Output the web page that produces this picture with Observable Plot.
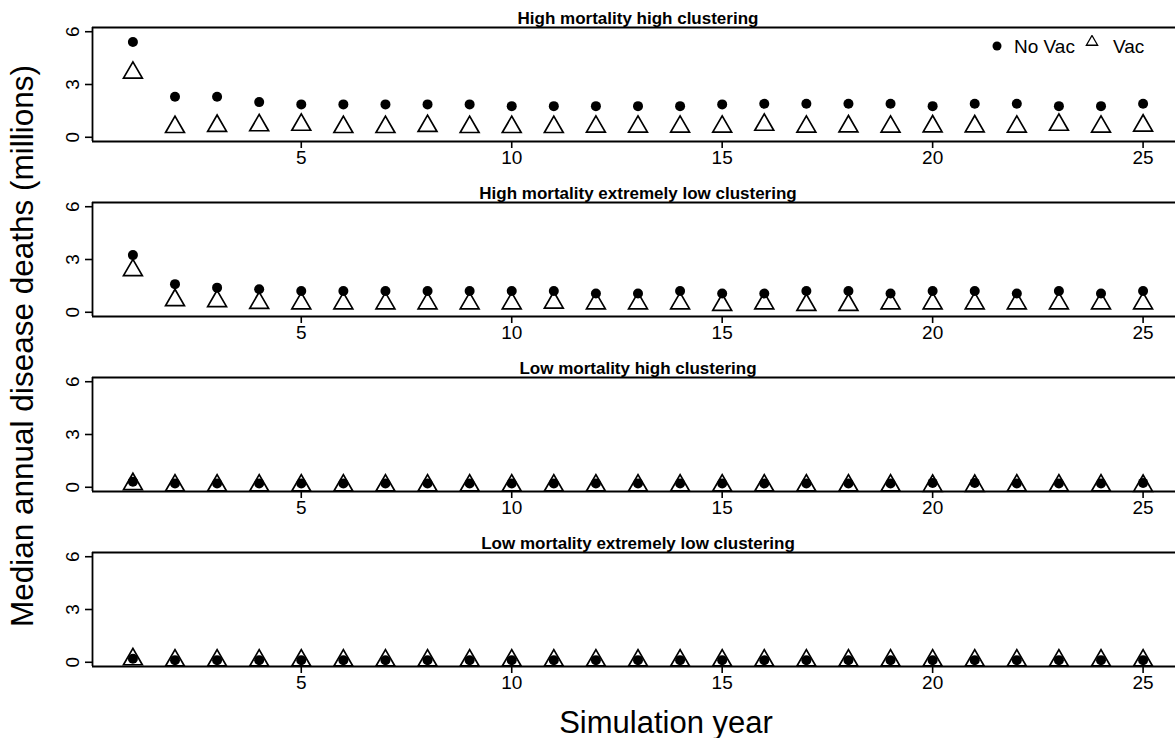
<!DOCTYPE html>
<html>
<head>
<meta charset="utf-8">
<script src="https://cdn.jsdelivr.net/npm/d3@7"></script>
<script src="https://cdn.jsdelivr.net/npm/@observablehq/plot@0.6"></script>
<style>
  html, body { margin: 0; padding: 0; background: #fff; }
  body { font-family: "Liberation Sans", Arial, sans-serif; color: #000; }
  #wrap { position: relative; width: 1175px; height: 738px; overflow: hidden; background: #fff; }
  .panel { position: absolute; left: 0; }
  .panel svg { overflow: hidden; }
  #ytitle { position: absolute; left: 23px; top: 346px; transform: translate(-50%, -50%) rotate(-90deg);
            font-size: 31.5px; white-space: nowrap; line-height: 1; }
  #xtitle { position: absolute; left: 666px; top: 722px; transform: translate(-50%, -50%);
            font-size: 31px; white-space: nowrap; line-height: 1; }
  #legend { position: absolute; left: 991px; top: 35px; height: 24px; font-size: 19px; line-height: 24px;
            white-space: nowrap; display: flex; align-items: center; }
  #legend svg { display: block; }
</style>
</head>
<body>
<div id="wrap">
  <div id="ytitle">Median annual disease deaths (millions)</div>
  <div id="xtitle">Simulation year</div>
</div>
<script>
// ---- data ----
const years = [1, 2, 3, 4, 5, 6, 7, 8, 9, 10, 11, 12, 13, 14, 15, 16, 17, 18, 19, 20, 21, 22, 23, 24, 25];

const panelTitles = [
  "High mortality high clustering",
  "High mortality extremely low clustering",
  "Low mortality high clustering",
  "Low mortality extremely low clustering"
];

const highHighNoVac = [5.42, 2.30, 2.30, 2.00, 1.87, 1.87, 1.87, 1.87, 1.87, 1.77, 1.77, 1.77, 1.77, 1.77, 1.87, 1.91, 1.91, 1.91, 1.91, 1.77, 1.91, 1.91, 1.77, 1.77, 1.91];
const highHighVac   = [3.67, 0.58, 0.65, 0.68, 0.71, 0.58, 0.58, 0.64, 0.58, 0.58, 0.58, 0.60, 0.60, 0.60, 0.60, 0.71, 0.60, 0.62, 0.60, 0.62, 0.62, 0.60, 0.71, 0.60, 0.66];

const highLowNoVac = [3.25, 1.60, 1.40, 1.31, 1.21, 1.21, 1.21, 1.21, 1.21, 1.21, 1.21, 1.07, 1.07, 1.21, 1.07, 1.07, 1.21, 1.21, 1.07, 1.21, 1.21, 1.07, 1.21, 1.07, 1.21];
const highLowVac   = [2.39, 0.69, 0.63, 0.53, 0.50, 0.50, 0.50, 0.50, 0.50, 0.50, 0.55, 0.50, 0.50, 0.50, 0.42, 0.50, 0.42, 0.42, 0.50, 0.50, 0.50, 0.50, 0.50, 0.50, 0.50];

const lowHighNoVac = [0.32, 0.22, 0.22, 0.22, 0.22, 0.22, 0.22, 0.22, 0.22, 0.22, 0.22, 0.22, 0.22, 0.22, 0.22, 0.22, 0.22, 0.22, 0.22, 0.25, 0.25, 0.22, 0.22, 0.22, 0.25];
const lowHighVac   = [0.18, 0.10, 0.10, 0.10, 0.10, 0.10, 0.10, 0.10, 0.10, 0.10, 0.10, 0.10, 0.10, 0.10, 0.10, 0.10, 0.10, 0.10, 0.10, 0.08, 0.08, 0.10, 0.10, 0.10, 0.08];

const lowLowNoVac = [0.20, 0.12, 0.12, 0.12, 0.12, 0.12, 0.12, 0.12, 0.12, 0.12, 0.12, 0.12, 0.12, 0.12, 0.12, 0.12, 0.12, 0.12, 0.12, 0.12, 0.12, 0.12, 0.12, 0.12, 0.12];
const lowLowVac   = [0.17, 0.10, 0.10, 0.10, 0.10, 0.10, 0.10, 0.10, 0.10, 0.10, 0.10, 0.10, 0.10, 0.10, 0.10, 0.10, 0.10, 0.10, 0.10, 0.10, 0.10, 0.10, 0.10, 0.10, 0.10];

const xTicks = [5, 10, 15, 20, 25];
const yTicks = [0, 3, 6];
const xDomain = [0.04, 25.96];
const yDomain = [-0.24, 6.24];

const seriesNoVac = [highHighNoVac, highLowNoVac, lowHighNoVac, lowLowNoVac];
const seriesVac = [highHighVac, highLowVac, lowHighVac, lowLowVac];
const legendLabels = ["No Vac", "Vac"];

// ---- drawing ----
const FONT = "'Liberation Sans', Arial, Helvetica, sans-serif";

function panel(title, noVac, vac) {
  const rows = years.map((yr, i) => ({year: yr, noVac: noVac[i], vac: vac[i]}));
  const svg = Plot.plot({
    width: 1175,
    height: 175,
    marginLeft: 92,
    marginRight: -8,
    marginTop: 27,
    marginBottom: 34,
    style: {fontFamily: FONT, fontSize: "19px", color: "#000", background: "transparent", overflow: "hidden"},
    x: {domain: xDomain, label: null},
    y: {domain: yDomain, label: null},
    marks: [
      Plot.axisX({ticks: xTicks, tickFormat: d => String(d), tickSize: 7, tickPadding: 2, label: null, fontSize: 19, strokeWidth: 1.6}),
      Plot.axisY({ticks: yTicks, tickFormat: d => String(d), tickSize: 7, tickPadding: 7, tickRotate: -90, label: null, fontSize: 19, strokeWidth: 1.6}),
      Plot.ruleX([xDomain[0]], {stroke: "#000", strokeWidth: 1.8}),
      Plot.ruleY(yDomain, {stroke: "#000", strokeWidth: 1.8}),
      Plot.dot(rows, {x: "year", y: "vac", symbol: "triangle", r: 7, stroke: "#000", strokeWidth: 1.7, fill: "none"}),
      Plot.dot(rows, {x: "year", y: "noVac", symbol: "circle", r: 5, fill: "#000", stroke: "none"}),
      Plot.text([title], {text: d => d, frameAnchor: "top", lineAnchor: "bottom", dy: -4, fontWeight: "bold", fontSize: 17, fill: "#000"})
    ]
  });
  // enforce text sizes: tick labels 19px, panel title 17px bold
  svg.querySelectorAll("text").forEach(t => {
    const g = t.closest("g");
    const bold = (g && g.getAttribute("font-weight") === "bold") || t.getAttribute("font-weight") === "bold";
    t.style.fontSize = bold ? "17px" : "19px";
  });
  return svg;
}

const wrap = document.getElementById("wrap");
panelTitles.forEach((t, k) => {
  const div = document.createElement("div");
  div.className = "panel";
  div.style.top = (k * 175) + "px";
  div.appendChild(panel(t, seriesNoVac[k], seriesVac[k]));
  wrap.appendChild(div);
});

// legend (top right of first panel)
const legend = document.createElement("div");
legend.id = "legend";
legend.innerHTML =
  `<svg width="12" height="24" viewBox="-6 -11 12 24"><circle r="4.5" fill="#000"/></svg>` +
  `<span style="margin-left:11px">${legendLabels[0]}</span>` +
  `<svg width="14" height="24" viewBox="-7 -7 14 24" style="margin-left:10px"><path d="${d3.symbol(d3.symbolTriangle, 55)()}" fill="none" stroke="#000" stroke-width="1.3"/></svg>` +
  `<span style="margin-left:14px">${legendLabels[1]}</span>`;
wrap.appendChild(legend);
</script>
</body>
</html>
